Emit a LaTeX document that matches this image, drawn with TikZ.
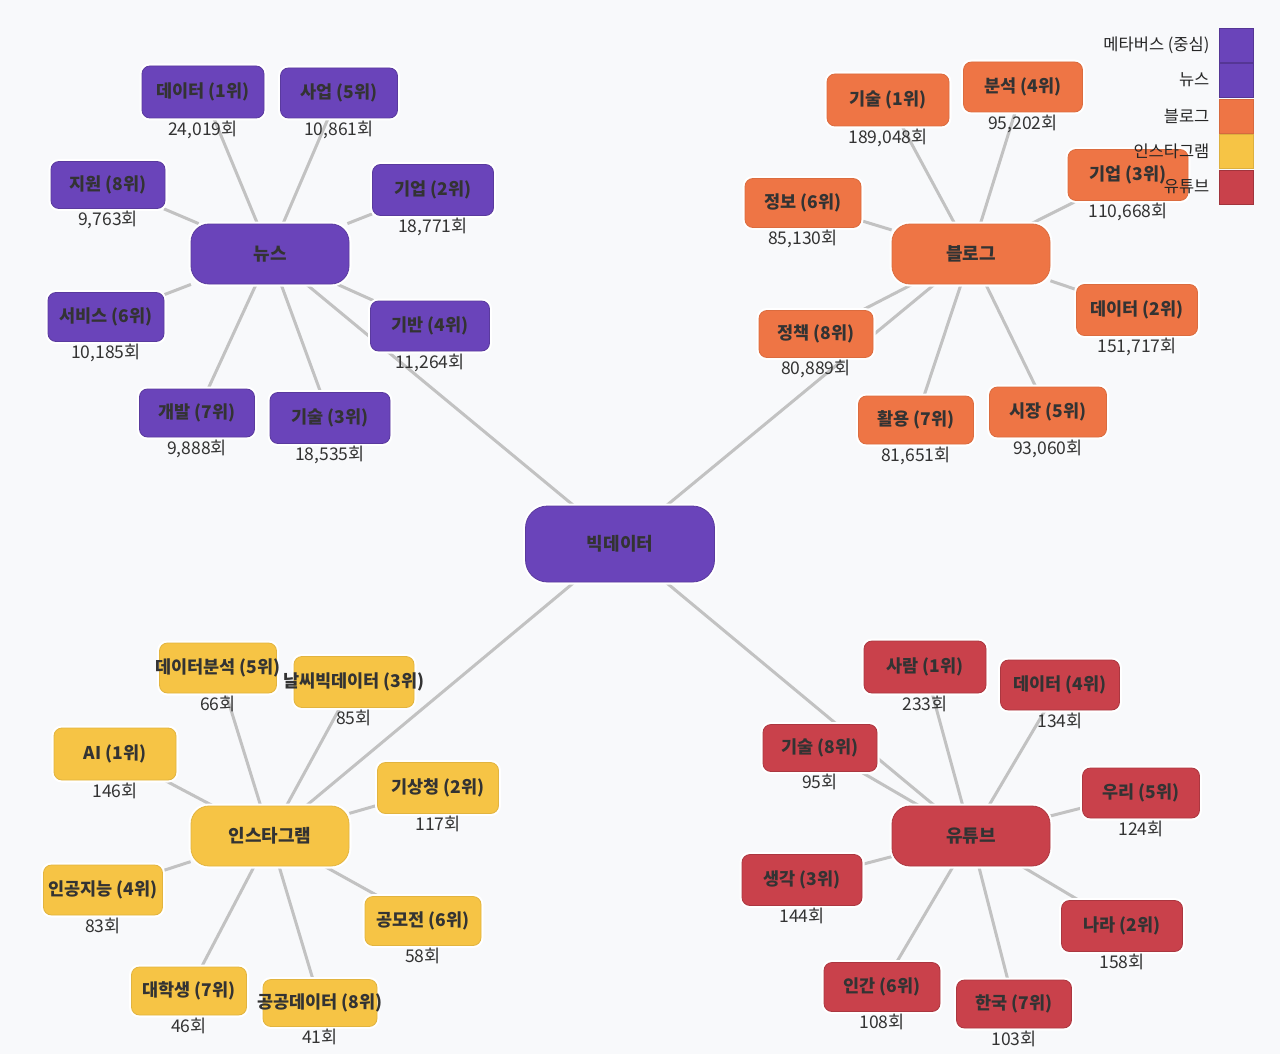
\documentclass[tikz,border=0pt]{standalone}
\usepackage{fontspec}
\setmainfont{Noto Sans CJK KR}
\usetikzlibrary{positioning, backgrounds}

\definecolor{news_purple}{HTML}{6A44BA}
\definecolor{blog_orange}{HTML}{EE7545}
\definecolor{insta_yellow}{HTML}{F6C445}
\definecolor{tube_red}{HTML}{C9414B}
\definecolor{page_bg}{HTML}{F8F9FB}
\definecolor{link_grey}{HTML}{C2C2C2}
\definecolor{ink}{HTML}{333333}

\tikzstyle{leaf_box} = [
    rectangle,
    text=ink,
    font=\fontsize{17.5}{20}\selectfont\bfseries,
    align=center,
    inner sep=2pt,
    line width=0.8pt,
    rounded corners=8pt,
    preaction={draw=white, line width=5pt}
]
\tikzstyle{news_node} = [leaf_box, fill=news_purple, draw=news_purple!85!black]
\tikzstyle{blog_node} = [leaf_box, fill=blog_orange, draw=blog_orange!92!black]
\tikzstyle{insta_node} = [leaf_box, fill=insta_yellow, draw=insta_yellow!92!black]
\tikzstyle{tube_node} = [leaf_box, fill=tube_red, draw=tube_red!85!black]
\tikzstyle{hub_node} = [
    font=\fontsize{18}{22}\selectfont\bfseries,
    minimum width=158pt, 
    minimum height=60pt, 
    rounded corners=18pt
]
\tikzstyle{core_node} = [
    leaf_box,
    font=\fontsize{18}{22}\selectfont\bfseries,
    fill=news_purple,
    draw=news_purple!85!black,
    minimum width=189pt, 
    minimum height=76pt, 
    rounded corners=22pt
]
% box size shrinks with the rank
\tikzstyle{r1} = [minimum width=122pt, minimum height=52pt]
\tikzstyle{r2} = [minimum width=121pt, minimum height=51pt]
\tikzstyle{r3} = [minimum width=120pt, minimum height=51pt]
\tikzstyle{r4} = [minimum width=119pt, minimum height=50pt]
\tikzstyle{r5} = [minimum width=117pt, minimum height=50pt]
\tikzstyle{r6} = [minimum width=116pt, minimum height=49pt]
\tikzstyle{r7} = [minimum width=115pt, minimum height=48pt]
\tikzstyle{r8} = [minimum width=114pt, minimum height=47pt]
\tikzstyle{count_text} = [
    text=ink, 
    font=\fontsize{17.5}{20}\selectfont, 
    inner sep=0pt
]
\tikzstyle{link_line} = [draw=link_grey, line width=3pt]
\tikzstyle{legend_key} = [
    rectangle, 
    minimum size=34pt, 
    inner sep=0pt, 
    line width=0.8pt
]
\tikzstyle{legend_text} = [
    text=black!85, 
    font=\fontsize{16.5}{19}\selectfont, 
    inner sep=0pt
]

\begin{document}
\begin{tikzpicture}[x=1pt, y=-1pt]
\useasboundingbox (0,0) rectangle (1280,1054);

\node [core_node] (core) at (620,544) {빅데이터};

% news
\node [news_node, hub_node] (news) at (270,254) {뉴스};
\node [news_node, r1] (news1) at (203,92) {데이터 (1위)};
\node [news_node, r2] (news2) at (433,190) {기업 (2위)};
\node [news_node, r3] (news3) at (330,418) {기술 (3위)};
\node [news_node, r4] (news4) at (430,326) {기반 (4위)};
\node [news_node, r5] (news5) at (339,93) {사업 (5위)};
\node [news_node, r6] (news6) at (106,317) {서비스 (6위)};
\node [news_node, r7] (news7) at (197,413) {개발 (7위)};
\node [news_node, r8] (news8) at (108,185) {지원 (8위)};
\node [count_text, below=2pt of news1] (news1c) {24,019회};
\node [count_text, below=2pt of news2] (news2c) {18,771회};
\node [count_text, below=2pt of news3] (news3c) {18,535회};
\node [count_text, below=2pt of news4] (news4c) {11,264회};
\node [count_text, below=2pt of news5] (news5c) {10,861회};
\node [count_text, below=2pt of news6] (news6c) {10,185회};
\node [count_text, below=2pt of news7] (news7c) {9,888회};
\node [count_text, below=2pt of news8] (news8c) {9,763회};

% blog
\node [blog_node, hub_node] (blog) at (971,254) {블로그};
\node [blog_node, r1] (blog1) at (888,100) {기술 (1위)};
\node [blog_node, r2] (blog2) at (1137,310) {데이터 (2위)};
\node [blog_node, r3] (blog3) at (1128,175) {기업 (3위)};
\node [blog_node, r4] (blog4) at (1023,87) {분석 (4위)};
\node [blog_node, r5] (blog5) at (1048,412) {시장 (5위)};
\node [blog_node, r6] (blog6) at (803,203) {정보 (6위)};
\node [blog_node, r7] (blog7) at (916,420) {활용 (7위)};
\node [blog_node, r8] (blog8) at (816,334) {정책 (8위)};
\node [count_text, below=2pt of blog1] (blog1c) {189,048회};
\node [count_text, below=2pt of blog2] (blog2c) {151,717회};
\node [count_text, below=2pt of blog3] (blog3c) {110,668회};
\node [count_text, below=2pt of blog4] (blog4c) {95,202회};
\node [count_text, below=2pt of blog5] (blog5c) {93,060회};
\node [count_text, below=2pt of blog6] (blog6c) {85,130회};
\node [count_text, below=2pt of blog7] (blog7c) {81,651회};
\node [count_text, below=2pt of blog8] (blog8c) {80,889회};

% instagram
\node [insta_node, hub_node] (insta) at (270,836) {인스타그램};
\node [insta_node, r1] (insta1) at (115,754) {AI (1위)};
\node [insta_node, r2] (insta2) at (438,788) {기상청 (2위)};
\node [insta_node, r3] (insta3) at (354,682) {\makebox[0pt]{날씨빅데이터 (3위)}};
\node [insta_node, r4] (insta4) at (103,890) {인공지능 (4위)};
\node [insta_node, r5] (insta5) at (218,668) {\makebox[0pt]{데이터분석 (5위)}};
\node [insta_node, r6] (insta6) at (423,921) {공모전 (6위)};
\node [insta_node, r7] (insta7) at (189,991) {대학생 (7위)};
\node [insta_node, r8] (insta8) at (320,1003) {\makebox[0pt]{공공데이터 (8위)}};
\node [count_text, below=2pt of insta1] (insta1c) {146회};
\node [count_text, below=2pt of insta2] (insta2c) {117회};
\node [count_text, below=2pt of insta3] (insta3c) {85회};
\node [count_text, below=2pt of insta4] (insta4c) {83회};
\node [count_text, below=2pt of insta5] (insta5c) {66회};
\node [count_text, below=2pt of insta6] (insta6c) {58회};
\node [count_text, below=2pt of insta7] (insta7c) {46회};
\node [count_text, below=2pt of insta8] (insta8c) {41회};

% youtube
\node [tube_node, hub_node] (tube) at (971,836) {유튜브};
\node [tube_node, r1] (tube1) at (925,667) {사람 (1위)};
\node [tube_node, r2] (tube2) at (1122,926) {나라 (2위)};
\node [tube_node, r3] (tube3) at (802,880) {생각 (3위)};
\node [tube_node, r4] (tube4) at (1060,685) {데이터 (4위)};
\node [tube_node, r5] (tube5) at (1141,793) {우리 (5위)};
\node [tube_node, r6] (tube6) at (882,987) {인간 (6위)};
\node [tube_node, r7] (tube7) at (1014,1004) {한국 (7위)};
\node [tube_node, r8] (tube8) at (820,748) {기술 (8위)};
\node [count_text, below=2pt of tube1] (tube1c) {233회};
\node [count_text, below=2pt of tube2] (tube2c) {158회};
\node [count_text, below=2pt of tube3] (tube3c) {144회};
\node [count_text, below=2pt of tube4] (tube4c) {134회};
\node [count_text, below=2pt of tube5] (tube5c) {124회};
\node [count_text, below=2pt of tube6] (tube6c) {108회};
\node [count_text, below=2pt of tube7] (tube7c) {103회};
\node [count_text, below=2pt of tube8] (tube8c) {95회};

\begin{scope}[on background layer]
\fill [page_bg] (0,0) rectangle (1280,1054);
\foreach \hub in {news, blog, insta, tube} {
    \draw [link_line] (core) -- (\hub);
    \foreach \i in {1,...,8}
        \draw [link_line] (\hub) -- (\hub\i);
}
\end{scope}

% legend
\node [legend_key, fill=news_purple, draw=news_purple!80!black] (key1) at (1236,45) {};
\node [legend_key, fill=news_purple, draw=news_purple!80!black] (key2) at (1236,80) {};
\node [legend_key, fill=blog_orange, draw=blog_orange!90!black] (key3) at (1236,116) {};
\node [legend_key, fill=insta_yellow, draw=insta_yellow!90!black] (key4) at (1236,151) {};
\node [legend_key, fill=tube_red, draw=tube_red!80!black] (key5) at (1236,187) {};
\node [legend_text, left=9pt of key1] (key1t) {메타버스 (중심)};
\node [legend_text, left=9pt of key2] (key2t) {뉴스};
\node [legend_text, left=9pt of key3] (key3t) {블로그};
\node [legend_text, left=9pt of key4] (key4t) {인스타그램};
\node [legend_text, left=9pt of key5] (key5t) {유튜브};
\end{tikzpicture}
\end{document}
